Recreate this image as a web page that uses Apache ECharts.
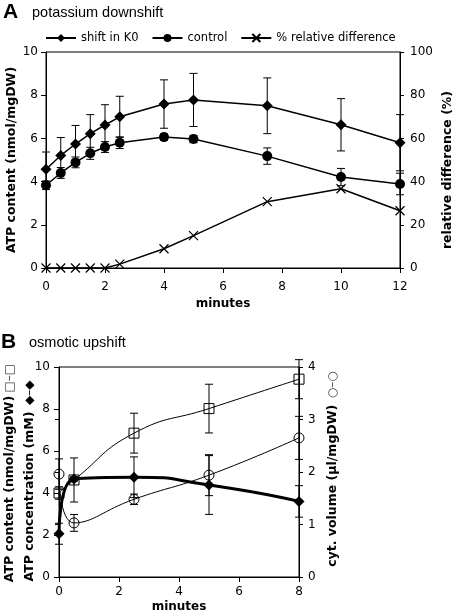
<!DOCTYPE html>
<html>
<head>
<meta charset="utf-8">
<script src="https://cdn.jsdelivr.net/npm/echarts@6/dist/echarts.min.js"></script>
<style>html,body{margin:0;padding:0;background:#fff}#c{width:456px;height:614px}</style>
</head>
<body>
<div id="c"></div>
<script>
// ---------- Panel A: potassium downshift ----------
const A_minutes = [0, 0.5, 1, 1.5, 2, 2.5, 4, 5, 7.5, 10, 12];
const A_shift = [4.57, 5.21, 5.74, 6.22, 6.62, 7.0, 7.59, 7.78, 7.51, 6.63, 5.80];
const A_shiftErr = [0.8, 0.83, 0.86, 0.88, 0.94, 0.95, 1.12, 1.23, 1.29, 1.21, 1.3];
const A_control = [3.83, 4.40, 4.89, 5.31, 5.60, 5.80, 6.06, 5.97, 5.18, 4.21, 3.89];
const A_controlErr = [0.2, 0.25, 0.25, 0.28, 0.25, 0.27, 0.15, 0.17, 0.38, 0.4, 0.5];
const A_relDiff = [0, 0, 0, 0, 0, 1.8, 8.9, 15.0, 30.7, 36.7, 26.5];
const A_seriesNames = ['shift in K0', 'control', '% relative difference'];

// ---------- Panel B: osmotic upshift ----------
const B_minutes = [0, 0.5, 2.5, 5, 8];
const B_content = [4.0, 4.62, 6.85, 8.02, 9.42];
const B_contentErr = [0.3, 1.05, 0.95, 1.16, 0.93];
const B_conc = [2.06, 4.67, 4.75, 4.38, 3.6];
const B_concErr = [0.5, 0.1, 0.97, 1.4, 0.75];
const B_volume = [1.96, 1.03, 1.48, 1.94, 2.65];
const B_volumeErr = [0.29, 0.16, 0.1, 0.39, 0.41];

const zip = (xs, ys) => xs.map((x, i) => [x, ys[i]]);
const FONT = 'DejaVu Sans';

function errSeries(xIdx, yIdx, xs, ys, es, capW) {
  return {
    type: 'custom', xAxisIndex: xIdx, yAxisIndex: yIdx, silent: true, z: 1, clip: false,
    data: xs.map((x, i) => [x, ys[i], es[i]]),
    encode: { x: 0, y: 1 },
    renderItem: function (params, api) {
      const x = api.value(0), y = api.value(1), e = api.value(2);
      const hi = api.coord([x, y + e]);
      const lo = api.coord([x, y - e]);
      const h = capW / 2;
      const st = { stroke: '#000', lineWidth: 1 };
      return { type: 'group', children: [
        { type: 'line', shape: { x1: hi[0], y1: hi[1], x2: lo[0], y2: lo[1] }, style: st },
        { type: 'line', shape: { x1: hi[0] - h, y1: hi[1], x2: hi[0] + h, y2: hi[1] }, style: st },
        { type: 'line', shape: { x1: lo[0] - h, y1: lo[1], x2: lo[0] + h, y2: lo[1] }, style: st }
      ] };
    }
  };
}

const axisLine = { show: true, onZero: false, lineStyle: { color: '#000', width: 1 } };
const lbl = (m) => ({ color: '#000', fontFamily: FONT, fontSize: 12, margin: m });

const chart = echarts.init(document.getElementById('c'));
chart.setOption({
  animation: false,
  backgroundColor: '#fff',
  grid: [
    { left: 46, top: 52, width: 354, height: 216, show: true, borderColor: '#000', borderWidth: 1, backgroundColor: 'transparent' },
    { left: 59, top: 367, width: 240, height: 210, show: true, borderColor: '#000', borderWidth: 1, backgroundColor: 'transparent' }
  ],
  legend: {
    data: A_seriesNames,
    left: 40, top: 27,
    itemWidth: 30, itemHeight: 10, itemGap: 13,
    textStyle: { color: '#000', fontFamily: FONT, fontSize: 11.5 }
  },
  xAxis: [
    { gridIndex: 0, type: 'value', min: 0, max: 12, interval: 2, axisLine,
      axisTick: { show: true, length: 5, lineStyle: { color: '#000' } },
      axisLabel: lbl(13), splitLine: { show: false } },
    { gridIndex: 1, type: 'value', min: 0, max: 8, interval: 2, axisLine,
      axisTick: { show: true, length: 5, lineStyle: { color: '#000' } },
      axisLabel: lbl(9), splitLine: { show: false } }
  ],
  yAxis: [
    { gridIndex: 0, type: 'value', position: 'left', min: 0, max: 10, interval: 2, axisLine,
      axisTick: { show: true, length: 5, lineStyle: { color: '#000' } },
      axisLabel: lbl(8), splitLine: { show: false } },
    { gridIndex: 0, type: 'value', position: 'right', min: 0, max: 100, interval: 20, axisLine,
      axisTick: { show: true, length: 4, lineStyle: { color: '#000' } },
      axisLabel: lbl(10), splitLine: { show: false } },
    { gridIndex: 0, type: 'value', position: 'right', min: 0, max: 100, interval: 20, axisLine: { show: false },
      axisTick: { show: true, inside: true, length: 4, lineStyle: { color: '#000' } },
      axisLabel: { show: false }, splitLine: { show: false } },
    { gridIndex: 1, type: 'value', position: 'left', min: 0, max: 10, interval: 2, axisLine,
      axisTick: { show: true, length: 5, lineStyle: { color: '#000' } },
      axisLabel: lbl(9), splitLine: { show: false } },
    { gridIndex: 1, type: 'value', position: 'right', min: 0, max: 4, interval: 1, axisLine,
      axisTick: { show: true, length: 4, lineStyle: { color: '#000' } },
      axisLabel: lbl(9), splitLine: { show: false } },
    { gridIndex: 1, type: 'value', position: 'right', min: 0, max: 4, interval: 1, axisLine: { show: false },
      axisTick: { show: true, inside: true, length: 4, lineStyle: { color: '#000' } },
      axisLabel: { show: false }, splitLine: { show: false } }
  ],
  series: [
    errSeries(0, 0, A_minutes, A_shift, A_shiftErr, 8),
    errSeries(0, 0, A_minutes, A_control, A_controlErr, 8),
    { name: A_seriesNames[0], type: 'line', xAxisIndex: 0, yAxisIndex: 0, data: zip(A_minutes, A_shift),
      symbol: 'diamond', symbolSize: 11, itemStyle: { color: '#000' }, lineStyle: { color: '#000', width: 1.5 }, z: 3 },
    { name: A_seriesNames[1], type: 'line', xAxisIndex: 0, yAxisIndex: 0, data: zip(A_minutes, A_control),
      symbol: 'circle', symbolSize: 10, itemStyle: { color: '#000' }, lineStyle: { color: '#000', width: 1.5 }, z: 3 },
    { name: A_seriesNames[2], type: 'line', xAxisIndex: 0, yAxisIndex: 1, data: zip(A_minutes, A_relDiff),
      symbol: 'path://M0,0L10,10M10,0L0,10', symbolSize: 9,
      itemStyle: { color: 'transparent', borderColor: '#000', borderWidth: 1.2 },
      lineStyle: { color: '#000', width: 1.5 }, z: 3 },

    errSeries(1, 3, B_minutes, B_content, B_contentErr, 8),
    errSeries(1, 3, B_minutes, B_conc, B_concErr, 8),
    errSeries(1, 4, B_minutes, B_volume, B_volumeErr, 8),
    { name: 'content', type: 'line', xAxisIndex: 1, yAxisIndex: 3, data: zip(B_minutes, B_content), smooth: 0.5,
      symbol: 'rect', symbolSize: 10, itemStyle: { color: 'transparent', borderColor: '#000', borderWidth: 1 },
      lineStyle: { color: '#000', width: 1 }, z: 3 },
    { name: 'concentration', type: 'line', xAxisIndex: 1, yAxisIndex: 3, data: zip(B_minutes, B_conc), smooth: 0.6,
      symbol: 'diamond', symbolSize: 11, itemStyle: { color: '#000' },
      lineStyle: { color: '#000', width: 3 }, z: 3 },
    { name: 'volume', type: 'line', xAxisIndex: 1, yAxisIndex: 4, data: zip(B_minutes, B_volume), smooth: 0.5,
      symbol: 'circle', symbolSize: 10, itemStyle: { color: 'transparent', borderColor: '#000', borderWidth: 1 },
      lineStyle: { color: '#000', width: 1 }, z: 3 }
  ],
  graphic: [
    { type: 'text', left: 3, top: 2, style: { text: 'A', fontFamily: 'Liberation Sans', fontWeight: 'bold', fontSize: 21, fill: '#000' } },
    { type: 'text', left: 32, top: 5, style: { text: 'potassium downshift', fontFamily: 'Liberation Sans', fontSize: 14.5, fill: '#000' } },
    { type: 'text', x: 223, y: 304, style: { text: 'minutes', fontFamily: FONT, fontWeight: 'bold', fontSize: 12, fill: '#000', align: 'center', verticalAlign: 'middle' } },
    { type: 'text', x: 12, y: 160, rotation: Math.PI / 2, style: { text: 'ATP content (nmol/mgDW)', fontFamily: FONT, fontWeight: 'bold', fontSize: 12.5, fill: '#000', align: 'center', verticalAlign: 'middle' } },
    { type: 'text', x: 448, y: 170, rotation: Math.PI / 2, style: { text: 'relative difference (%)', fontFamily: FONT, fontWeight: 'bold', fontSize: 12.5, fill: '#000', align: 'center', verticalAlign: 'middle' } },

    { type: 'text', left: 1, top: 332, style: { text: 'B', fontFamily: 'Liberation Sans', fontWeight: 'bold', fontSize: 21, fill: '#000' } },
    { type: 'text', left: 29, top: 335, style: { text: 'osmotic upshift', fontFamily: 'Liberation Sans', fontSize: 14.5, fill: '#000' } },
    { type: 'text', x: 179, y: 607, style: { text: 'minutes', fontFamily: FONT, fontWeight: 'bold', fontSize: 12, fill: '#000', align: 'center', verticalAlign: 'middle' } },
    { type: 'text', x: 10, y: 473, rotation: Math.PI / 2, style: {
        text: '{b|ATP content (nmol/mgDW)} {s|□–□}', align: 'center', verticalAlign: 'middle',
        rich: { b: { fontFamily: FONT, fontWeight: 'bold', fontSize: 12.5, fill: '#000' }, s: { fontFamily: FONT, fontSize: 12, fill: '#444' } } } },
    { type: 'text', x: 30, y: 481, rotation: Math.PI / 2, style: {
        text: '{b|ATP concentration (mM)}  {s|◆–◆}', align: 'center', verticalAlign: 'middle',
        rich: { b: { fontFamily: FONT, fontWeight: 'bold', fontSize: 12.5, fill: '#000' }, s: { fontFamily: FONT, fontSize: 12, fill: '#000' } } } },
    { type: 'text', x: 333, y: 469, rotation: Math.PI / 2, style: {
        text: '{b|cyt. volume (µl/mgDW)}  {s|○–○}', align: 'center', verticalAlign: 'middle',
        rich: { b: { fontFamily: FONT, fontWeight: 'bold', fontSize: 12.5, fill: '#000' }, s: { fontFamily: FONT, fontSize: 12, fill: '#444' } } } }
  ]
});
</script>
</body>
</html>
